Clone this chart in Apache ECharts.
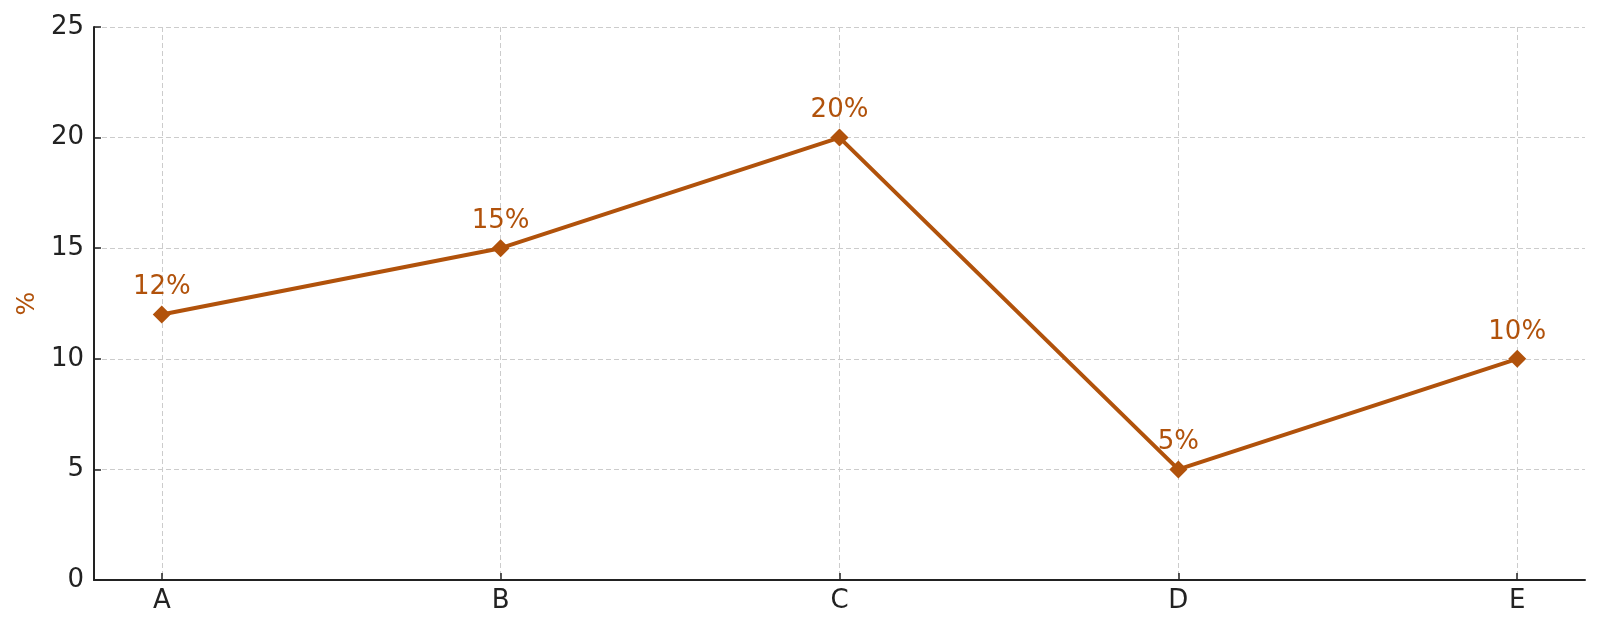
<!DOCTYPE html>
<html>
<head>
<meta charset="utf-8">
<script src="https://cdn.jsdelivr.net/npm/echarts@6/dist/echarts.min.js"></script>
<style>html,body{margin:0;padding:0;background:#fff}#c{width:1600px;height:631px}</style>
</head>
<body>
<div id="c"></div>
<script>
const categories = ['A', 'B', 'C', 'D', 'E'];
const values = [12, 15, 20, 5, 10];
const yTicks = [0, 5, 10, 15, 20, 25];

const color = '#b1520b';
const font = 'DejaVu Sans';
const catIdx = categories.map((c, i) => i);
const points = values.map((v, i) => [i, v]);

const chart = echarts.init(document.getElementById('c'), null, {renderer: 'canvas'});
chart.setOption({
  animation: false,
  backgroundColor: '#fff',
  grid: {left: 94, right: 15, top: 27, bottom: 51, containLabel: false},
  xAxis: {
    type: 'value',
    min: -0.2,
    max: 4.2,
    axisLine: {show: true, onZero: false, lineStyle: {color: '#222', width: 2}},
    axisTick: {show: true, inside: true, length: 7, customValues: catIdx, lineStyle: {color: '#222', width: 1.5}},
    axisLabel: {customValues: catIdx, formatter: v => categories[Math.round(v)] || '', color: '#222', fontFamily: font, fontSize: 26, margin: 8},
    splitLine: {show: true, lineStyle: {color: '#cccccc', type: [5, 3], width: 1}}
  },
  yAxis: {
    type: 'value',
    min: yTicks[0],
    max: yTicks[yTicks.length - 1],
    interval: 5,
    name: '%',
    nameLocation: 'middle',
    nameGap: 52,
    nameRotate: 90,
    nameTextStyle: {color: color, fontFamily: font, fontSize: 25},
    axisLine: {show: true, onZero: false, lineStyle: {color: '#222', width: 2}},
    axisTick: {show: true, inside: true, length: 7, lineStyle: {color: '#222', width: 1.5}},
    axisLabel: {color: '#222', fontFamily: font, fontSize: 26, margin: 10},
    splitLine: {show: true, lineStyle: {color: '#cccccc', type: [5, 3], width: 1}}
  },
  series: [{
    type: 'line',
    data: points,
    symbol: 'diamond',
    symbolSize: 18,
    lineStyle: {color: color, width: 4},
    itemStyle: {color: color},
    label: {
      show: true,
      position: 'top',
      distance: 5,
      color: color,
      fontFamily: font,
      fontSize: 26,
      formatter: p => p.value[1] + '%'
    }
  }]
});
</script>
</body>
</html>
